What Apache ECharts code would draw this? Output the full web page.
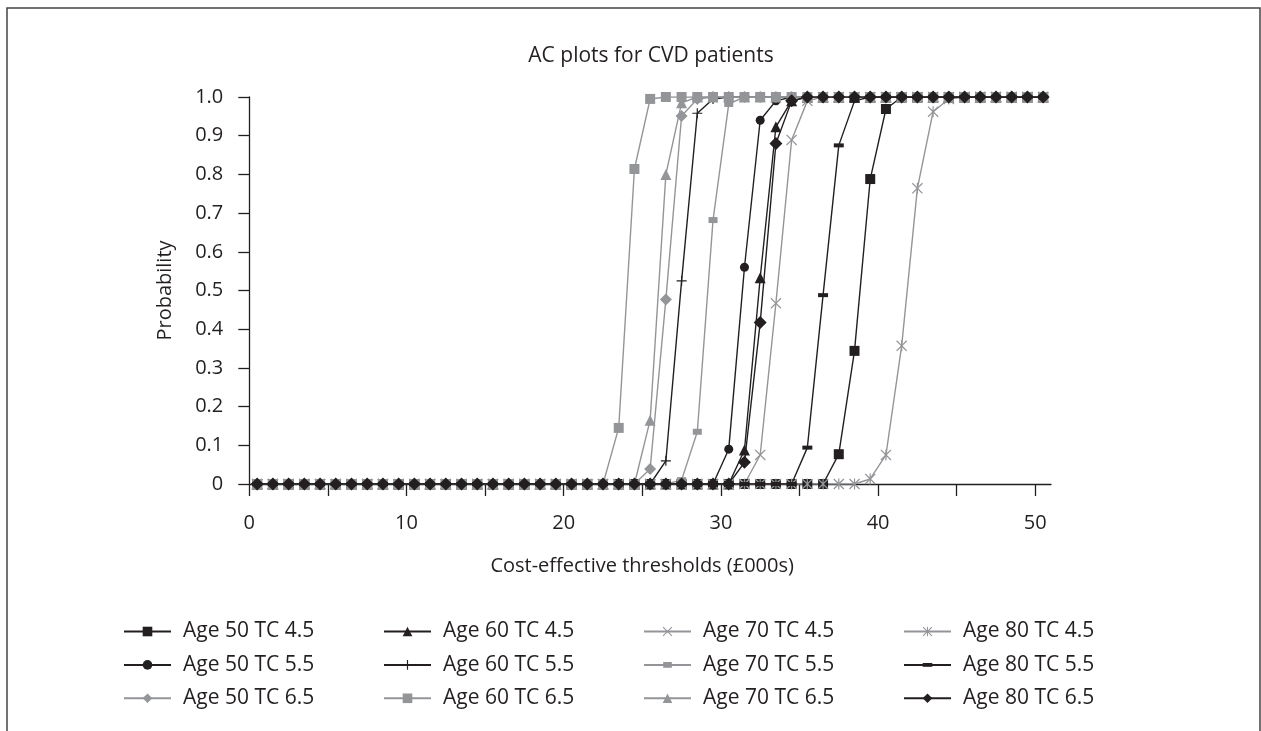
<!DOCTYPE html>
<html>
<head>
<meta charset="utf-8">
<script src="https://cdn.jsdelivr.net/npm/echarts@6/dist/echarts.min.js"></script>
<style>
  html, body { margin: 0; padding: 0; background: #fff; }
  #main { width: 1261px; height: 731px; }
</style>
</head>
<body>
<div id="main"></div>
<script>
// thresholds in £000s
var thresholds = [
  0.5, 1.5, 2.5, 3.5, 4.5, 5.5, 6.5, 7.5, 8.5, 9.5,
  10.5, 11.5, 12.5, 13.5, 14.5, 15.5, 16.5, 17.5, 18.5, 19.5,
  20.5, 21.5, 22.5, 23.5, 24.5, 25.5, 26.5, 27.5, 28.5, 29.5,
  30.5, 31.5, 32.5, 33.5, 34.5, 35.5, 36.5, 37.5, 38.5, 39.5,
  40.5, 41.5, 42.5, 43.5, 44.5, 45.5, 46.5, 47.5, 48.5, 49.5,
  50.5
];
var xTicks = [0, 5, 10, 15, 20, 25, 30, 35, 40, 45, 50];
var xLabels = [0, 10, 20, 30, 40, 50];

var age50tc45 = [
  0, 0, 0, 0, 0, 0, 0, 0, 0, 0,
  0, 0, 0, 0, 0, 0, 0, 0, 0, 0,
  0, 0, 0, 0, 0, 0, 0, 0, 0, 0,
  0, 0, 0, 0, 0, 0, 0, 0.077, 0.344, 0.788,
  0.969, 1, 1, 1, 1, 1, 1, 1, 1, 1,
  1
];
var age50tc55 = [
  0, 0, 0, 0, 0, 0, 0, 0, 0, 0,
  0, 0, 0, 0, 0, 0, 0, 0, 0, 0,
  0, 0, 0, 0, 0, 0, 0, 0, 0, 0,
  0.09, 0.56, 0.94, 0.99, 1, 1, 1, 1, 1, 1,
  1, 1, 1, 1, 1, 1, 1, 1, 1, 1,
  1
];
var age50tc65 = [
  0, 0, 0, 0, 0, 0, 0, 0, 0, 0,
  0, 0, 0, 0, 0, 0, 0, 0, 0, 0,
  0, 0, 0, 0, 0, 0.039, 0.477, 0.951, 0.995, 1,
  1, 1, 1, 1, 1, 1, 1, 1, 1, 1,
  1, 1, 1, 1, 1, 1, 1, 1, 1, 1,
  1
];
var age60tc45 = [
  0, 0, 0, 0, 0, 0, 0, 0, 0, 0,
  0, 0, 0, 0, 0, 0, 0, 0, 0, 0,
  0, 0, 0, 0, 0, 0, 0, 0, 0, 0,
  0, 0.088, 0.533, 0.923, 0.99, 1, 1, 1, 1, 1,
  1, 1, 1, 1, 1, 1, 1, 1, 1, 1,
  1
];
var age60tc55 = [
  0, 0, 0, 0, 0, 0, 0, 0, 0, 0,
  0, 0, 0, 0, 0, 0, 0, 0, 0, 0,
  0, 0, 0, 0, 0, 0, 0.06, 0.525, 0.958, 0.995,
  1, 1, 1, 1, 1, 1, 1, 1, 1, 1,
  1, 1, 1, 1, 1, 1, 1, 1, 1, 1,
  1
];
var age60tc65 = [
  0, 0, 0, 0, 0, 0, 0, 0, 0, 0,
  0, 0, 0, 0, 0, 0, 0, 0, 0, 0,
  0, 0, 0, 0.145, 0.814, 0.995, 1, 1, 1, 1,
  1, 1, 1, 1, 1, 1, 1, 1, 1, 1,
  1, 1, 1, 1, 1, 1, 1, 1, 1, 1,
  1
];
var age70tc45 = [
  0, 0, 0, 0, 0, 0, 0, 0, 0, 0,
  0, 0, 0, 0, 0, 0, 0, 0, 0, 0,
  0, 0, 0, 0, 0, 0, 0, 0, 0, 0,
  0, 0, 0.075, 0.467, 0.889, 0.99, 1, 1, 1, 1,
  1, 1, 1, 1, 1, 1, 1, 1, 1, 1,
  1
];
var age70tc55 = [
  0, 0, 0, 0, 0, 0, 0, 0, 0, 0,
  0, 0, 0, 0, 0, 0, 0, 0, 0, 0,
  0, 0, 0, 0, 0, 0, 0, 0.01, 0.135, 0.682,
  0.982, 1, 1, 1, 1, 1, 1, 1, 1, 1,
  1, 1, 1, 1, 1, 1, 1, 1, 1, 1,
  1
];
var age70tc65 = [
  0, 0, 0, 0, 0, 0, 0, 0, 0, 0,
  0, 0, 0, 0, 0, 0, 0, 0, 0, 0,
  0, 0, 0, 0, 0, 0.165, 0.8, 0.985, 1, 1,
  1, 1, 1, 1, 1, 1, 1, 1, 1, 1,
  1, 1, 1, 1, 1, 1, 1, 1, 1, 1,
  1
];
var age80tc45 = [
  0, 0, 0, 0, 0, 0, 0, 0, 0, 0,
  0, 0, 0, 0, 0, 0, 0, 0, 0, 0,
  0, 0, 0, 0, 0, 0, 0, 0, 0, 0,
  0, 0, 0, 0, 0, 0, 0, 0, 0, 0.013,
  0.075, 0.357, 0.764, 0.962, 0.995, 1, 1, 1, 1, 1,
  1
];
var age80tc55 = [
  0, 0, 0, 0, 0, 0, 0, 0, 0, 0,
  0, 0, 0, 0, 0, 0, 0, 0, 0, 0,
  0, 0, 0, 0, 0, 0, 0, 0, 0, 0,
  0, 0, 0, 0, 0, 0.094, 0.488, 0.875, 0.99, 1,
  1, 1, 1, 1, 1, 1, 1, 1, 1, 1,
  1
];
var age80tc65 = [
  0, 0, 0, 0, 0, 0, 0, 0, 0, 0,
  0, 0, 0, 0, 0, 0, 0, 0, 0, 0,
  0, 0, 0, 0, 0, 0, 0, 0, 0, 0,
  0, 0.056, 0.417, 0.88, 0.99, 1, 1, 1, 1, 1,
  1, 1, 1, 1, 1, 1, 1, 1, 1, 1,
  1
];

var BLACK = '#231f20';
var GREY = '#939598';
var FONT = '"Open Sans"';

var plusPath = 'path://M4.4,0H5.6V4.4H10V5.6H5.6V10H4.4V5.6H0V4.4H4.4Z';
var crossPath = 'path://M0,0.8L0.8,0L5,4.2L9.2,0L10,0.8L5.8,5L10,9.2L9.2,10L5,5.8L0.8,10L0,9.2L4.2,5Z';
var starPath = 'path://M0,0.8L0.8,0L5,4.2L9.2,0L10,0.8L5.8,5L10,9.2L9.2,10L5,5.8L0.8,10L0,9.2L4.2,5Z M4.45,0H5.55V10H4.45Z';
var dashPath = 'path://M0,0M10,10M0,3H10V7H0Z';
var smallSqPath = 'path://M0,0M10,10M0.5,2H9.5V8H0.5Z';

function mk(name, vals, color, symbol, size) {
  return {
    name: name,
    type: 'line',
    data: thresholds.map(function (x, i) { return [x, vals[i]]; }),
    symbol: symbol,
    symbolSize: size,
    showAllSymbol: true,
    color: color,
    itemStyle: { color: color },
    lineStyle: { color: color, width: 1.4 },
    emphasis: { disabled: true }
  };
}

var series = [
  mk('Age 50 TC 4.5', age50tc45, BLACK, 'rect', 10),
  mk('Age 50 TC 5.5', age50tc55, BLACK, 'circle', 9),
  mk('Age 50 TC 6.5', age50tc65, GREY, 'diamond', 12),
  mk('Age 60 TC 4.5', age60tc45, BLACK, 'triangle', 11),
  mk('Age 60 TC 5.5', age60tc55, BLACK, plusPath, 10),
  mk('Age 60 TC 6.5', age60tc65, GREY, 'rect', 10),
  mk('Age 70 TC 4.5', age70tc45, GREY, crossPath, 11),
  mk('Age 70 TC 5.5', age70tc55, GREY, smallSqPath, 10),
  mk('Age 70 TC 6.5', age70tc65, GREY, 'triangle', 11),
  mk('Age 80 TC 4.5', age80tc45, GREY, starPath, 11),
  mk('Age 80 TC 5.5', age80tc55, BLACK, dashPath, 10),
  mk('Age 80 TC 6.5', age80tc65, BLACK, 'diamond', 13)
];

function legendCol(left, names) {
  return {
    orient: 'vertical',
    left: left,
    top: 621,
    padding: 0,
    itemWidth: 47,
    itemHeight: 12,
    itemGap: 12.4,
    selectedMode: false,
    data: names,
    textStyle: { fontFamily: FONT, fontSize: 21, color: BLACK, lineHeight: 18, padding: [0, 0, 0, 7] }
  };
}

var chart = echarts.init(document.getElementById('main'));
chart.setOption({
  animation: false,
  backgroundColor: '#fff',
  graphic: [{
    type: 'rect',
    shape: { x: 7, y: 8, width: 1253, height: 760 },
    style: { fill: 'none', stroke: '#444', lineWidth: 1.5 },
    silent: true
  }, {
    type: 'text',
    x: 651,
    y: 56,
    silent: true,
    style: {
      text: 'AC plots for CVD patients',
      fontFamily: FONT,
      fontSize: 21,
      fill: BLACK,
      align: 'center',
      verticalAlign: 'middle'
    }
  }],
  legend: [
    legendCol(123, ['Age 50 TC 4.5', 'Age 50 TC 5.5', 'Age 50 TC 6.5']),
    legendCol(383, ['Age 60 TC 4.5', 'Age 60 TC 5.5', 'Age 60 TC 6.5']),
    legendCol(643, ['Age 70 TC 4.5', 'Age 70 TC 5.5', 'Age 70 TC 6.5']),
    legendCol(903, ['Age 80 TC 4.5', 'Age 80 TC 5.5', 'Age 80 TC 6.5'])
  ],
  grid: { left: 249.3, right: 210, top: 97, bottom: 247, containLabel: false },
  xAxis: {
    type: 'value',
    min: 0,
    max: 51,
    interval: 5,
    name: 'Cost-effective thresholds (£000s)',
    nameLocation: 'middle',
    nameGap: 72,
    nameTextStyle: { fontFamily: FONT, fontSize: 20, color: BLACK, padding: [0, 16, 0, 0] },
    splitLine: { show: false },
    axisLine: { onZero: false, lineStyle: { color: BLACK, width: 1.3 } },
    axisTick: { show: true, length: 12, customValues: xTicks, lineStyle: { color: BLACK, width: 1.3 } },
    axisLabel: { customValues: xLabels, margin: 29, fontFamily: FONT, fontSize: 20, color: BLACK }
  },
  yAxis: {
    type: 'value',
    min: 0,
    max: 1,
    interval: 0.1,
    name: 'Probability',
    nameLocation: 'middle',
    nameGap: 74,
    nameTextStyle: { fontFamily: FONT, fontSize: 20, color: BLACK },
    splitLine: { show: false },
    axisLine: { show: true, lineStyle: { color: BLACK, width: 1.3 } },
    axisTick: { show: true, length: 11, lineStyle: { color: BLACK, width: 1.3 } },
    axisLabel: {
      margin: 26,
      fontFamily: FONT,
      fontSize: 20,
      color: BLACK,
      formatter: function (v) { return v === 0 ? '0' : v.toFixed(1); }
    }
  },
  series: series
});
</script>
</body>
</html>
